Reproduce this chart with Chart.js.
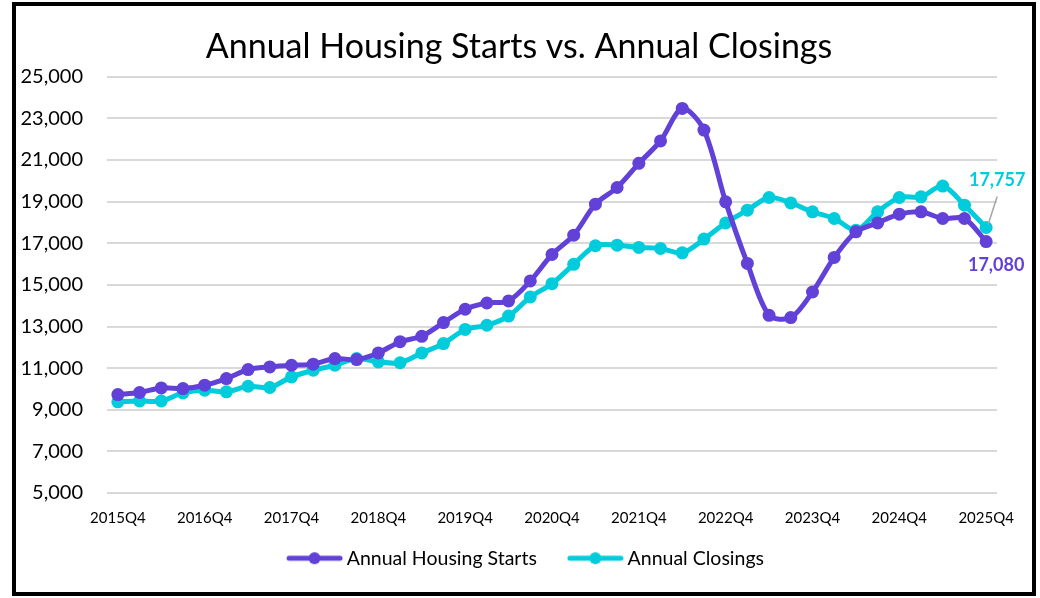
<!DOCTYPE html>
<html>
<head>
<meta charset="utf-8">
<script src="https://cdn.jsdelivr.net/npm/chart.js@4/dist/chart.umd.min.js"></script>
<style>
    body { margin: 0; background: #ffffff; }
    #marco {
        position: absolute;
        left: 12px; top: 2px;
        width: 1024px; height: 594px;
        box-sizing: border-box;
        border: 4px solid #000000;
        background: #ffffff;
    }
    #grafico { display: block; }
</style>
</head>
<body>
<div id="marco"><canvas id="grafico" width="1016" height="586"></canvas></div>
<script>
// Trimestres del eje X
const trimestres = [
    '2015Q4',
    '2016Q1', '2016Q2', '2016Q3', '2016Q4',
    '2017Q1', '2017Q2', '2017Q3', '2017Q4',
    '2018Q1', '2018Q2', '2018Q3', '2018Q4',
    '2019Q1', '2019Q2', '2019Q3', '2019Q4',
    '2020Q1', '2020Q2', '2020Q3', '2020Q4',
    '2021Q1', '2021Q2', '2021Q3', '2021Q4',
    '2022Q1', '2022Q2', '2022Q3', '2022Q4',
    '2023Q1', '2023Q2', '2023Q3', '2023Q4',
    '2024Q1', '2024Q2', '2024Q3', '2024Q4',
    '2025Q1', '2025Q2', '2025Q3', '2025Q4'
];

// Valores
const inicios = [
    9730, 9830, 10050, 10020, 10180, 10500, 10930, 11060, 11140, 11190,
    11460, 11410, 11730, 12270, 12530, 13190, 13830, 14130, 14230, 15190,
    16460, 17390, 18880, 19680, 20840, 21920, 23480, 22440, 18990, 16030,
    13540, 13430, 14660, 16320, 17550, 17980, 18400, 18510, 18190, 18190,
    17080
];
const cierres = [
    9380, 9420, 9420, 9810, 9940, 9860, 10130, 10070, 10580, 10900,
    11140, 11460, 11300, 11260, 11730, 12180, 12860, 13060, 13500, 14420,
    15060, 15990, 16880, 16910, 16800, 16750, 16540, 17200, 17980, 18590,
    19200, 18940, 18510, 18190, 17630, 18510, 19200, 19230, 19750, 18830,
    17757
];

const nombresSeries = ['Annual Housing Starts', 'Annual Closings'];
const coloresSeries = ['#6141D8', '#00CCDC'];
const marcasY = [5000, 25000, 2000]; // min, max, paso

const FUENTE = "Lato, 'Open Sans', sans-serif";

// Icono de leyenda: linea con punto, con 18px vacios a la izquierda (separa los items)
function iconoLeyenda(color) {
    const c = document.createElement('canvas');
    c.width = 75; c.height = 14;
    const g = c.getContext('2d');
    g.strokeStyle = color;
    g.lineWidth = 5;
    g.lineCap = 'round';
    g.beginPath();
    g.moveTo(21, 7); g.lineTo(72, 7);
    g.stroke();
    g.fillStyle = color;
    g.beginPath();
    g.arc(46.5, 7, 6, 0, Math.PI * 2);
    g.fill();
    return c;
}

// Etiquetas del ultimo valor
const etiquetasFinales = {
    id: 'etiquetasFinales',
    afterDatasetsDraw(chart) {
        const ctx = chart.ctx;
        const pInicio = chart.getDatasetMeta(0).data[inicios.length - 1];
        const pCierre = chart.getDatasetMeta(1).data[cierres.length - 1];
        ctx.save();
        ctx.font = "bold 18px " + FUENTE;
        ctx.textAlign = 'center';
        ctx.textBaseline = 'middle';

        // linea guia gris
        ctx.strokeStyle = '#a6a6a6';
        ctx.lineWidth = 1.5;
        ctx.beginPath();
        ctx.moveTo(pCierre.x + 11, pCierre.y - 31);
        ctx.lineTo(pCierre.x + 2, pCierre.y - 3);
        ctx.stroke();

        ctx.fillStyle = coloresSeries[1];
        ctx.fillText(cierres[cierres.length - 1].toLocaleString('en-US'), pCierre.x + 11, pCierre.y - 47);
        ctx.fillStyle = coloresSeries[0];
        ctx.fillText(inicios[inicios.length - 1].toLocaleString('en-US'), pInicio.x + 10, pInicio.y + 24);
        ctx.restore();
    }
};

const ctx = document.getElementById('grafico');
new Chart(ctx.getContext('2d'), {
    type: 'line',
    data: {
        labels: trimestres,
        datasets: [
            {
                label: nombresSeries[0],
                data: inicios,
                borderColor: coloresSeries[0],
                backgroundColor: coloresSeries[0],
                borderWidth: 5,
                pointRadius: 6.5,
                pointBorderWidth: 0,
                tension: 0.3
            },
            {
                label: nombresSeries[1],
                data: cierres,
                borderColor: coloresSeries[1],
                backgroundColor: coloresSeries[1],
                borderWidth: 5,
                pointRadius: 6.5,
                pointBorderWidth: 0,
                tension: 0.3
            }
        ]
    },
    options: {
        responsive: false,
        animation: false,
        layout: { padding: { left: 0, right: 10, top: 0, bottom: 14 } },
        plugins: {
            title: {
                display: true,
                text: 'Annual Housing Starts vs. Annual Closings',
                color: '#000000',
                font: { family: FUENTE, size: 34, weight: 'normal' },
                padding: { top: 21, bottom: 9 }
            },
            legend: {
                position: 'bottom',
                labels: {
                    usePointStyle: true,
                    pointStyleWidth: 63,
                    color: '#000000',
                    font: { family: FUENTE, size: 19.5 },
                    padding: 18,
                    generateLabels(chart) {
                        return chart.data.datasets.map((ds, i) => ({
                            text: ds.label,
                            fillStyle: ds.borderColor,
                            strokeStyle: ds.borderColor,
                            lineWidth: 0,
                            pointStyle: iconoLeyenda(ds.borderColor),
                            datasetIndex: i,
                            fontColor: '#000000'
                        }));
                    }
                }
            },
            tooltip: { enabled: false }
        },
        scales: {
            x: {
                offset: true,
                grid: { display: false },
                border: { display: false },
                ticks: {
                    autoSkip: false,
                    maxRotation: 0,
                    color: '#000000',
                    font: { family: FUENTE, size: 15 },
                    padding: 8,
                    callback: function (valor, indice) {
                        return indice % 4 === 0 ? trimestres[indice] : '';
                    }
                },
                afterFit(scale) { scale.height = 37.5; }
            },
            y: {
                min: marcasY[0],
                max: marcasY[1],
                grid: { color: '#d9d9d9', lineWidth: 2, drawTicks: false },
                border: { display: false },
                ticks: {
                    stepSize: marcasY[2],
                    color: '#000000',
                    font: { family: FUENTE, size: 20 },
                    padding: 24
                },
                afterFit(scale) { scale.width = 91; }
            },
            // eje vacio a la derecha, solo reserva espacio para las etiquetas
            derecha: {
                type: 'linear',
                position: 'right',
                min: marcasY[0],
                max: marcasY[1],
                grid: { display: false, drawTicks: false },
                border: { display: false },
                ticks: { display: false },
                afterFit(scale) { scale.width = 25; }
            }
        }
    },
    plugins: [etiquetasFinales]
});
</script>
</body>
</html>
